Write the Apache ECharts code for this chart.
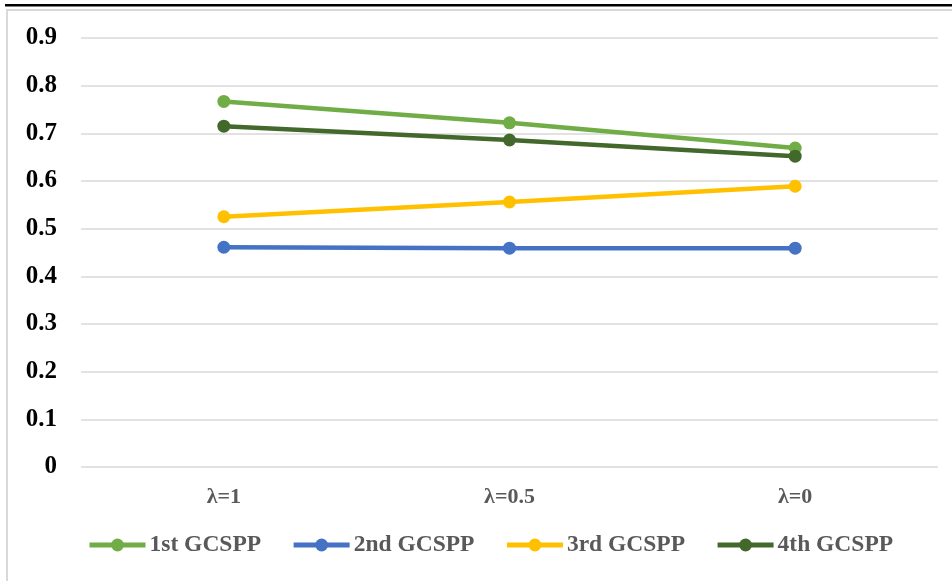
<!DOCTYPE html>
<html>
<head>
  <meta charset="utf-8" />
  <title>GCSPP</title>
  <script src="https://cdn.jsdelivr.net/npm/echarts@6.0.0/dist/echarts.min.js"></script>
  <style>
    body { margin: 0; background: #fff; }
  </style>
</head>
<body>
  <div id="main" style="width: 952px;height:581px;"></div>
  <script type="text/javascript">
    var myChart = echarts.init(document.getElementById('main'));

    // 数据
    let categories = ['λ=1', 'λ=0.5', 'λ=0'];
    let names = ['1st GCSPP', '2nd GCSPP', '3rd GCSPP', '4th GCSPP'];
    let first = [0.767, 0.722, 0.669];
    let second = [0.461, 0.459, 0.459];
    let third = [0.525, 0.556, 0.589];
    let fourth = [0.715, 0.686, 0.652];
    let yTicks = [0, 0.1, 0.2, 0.3, 0.4, 0.5, 0.6, 0.7, 0.8, 0.9];

    let colors = ['#70AD47', '#4472C4', '#FFC000', '#43682B'];
    let serif = '"Liberation Serif", "Times New Roman", serif';

    function mkSeries(name, data, color) {
      return {
        name: name,
        type: 'line',
        data: data,
        symbol: 'circle',
        symbolSize: 13,
        lineStyle: { width: 4.5, color: color },
        itemStyle: { color: color }
      };
    }

    var option = {
      backgroundColor: '#fff',
      animation: false,
      graphic: [
        { type: 'rect', shape: { x: 5, y: 4, width: 947, height: 2.5 }, style: { fill: '#000' } },
        { type: 'rect', shape: { x: 7, y: 9, width: 945, height: 2 }, style: { fill: '#d9d9d9' } },
        { type: 'rect', shape: { x: 6, y: 9, width: 2, height: 572 }, style: { fill: '#d9d9d9' } }
      ],
      grid: { left: 81, right: 14, top: 38, bottom: 114 },
      legend: {
        data: names,
        bottom: 19,
        left: 82,
        itemWidth: 56,
        itemHeight: 16,
        itemGap: 30,
        lineStyle: { width: 5 },
        textStyle: { fontFamily: serif, fontWeight: 'bold', fontSize: 23.5, color: '#595959', padding: [0, 0, 0, -1] }
      },
      xAxis: {
        type: 'category',
        data: categories,
        boundaryGap: true,
        axisLine: { show: false },
        axisTick: { show: false },
        axisLabel: { margin: 19, fontFamily: serif, fontWeight: 'bold', fontSize: 22, color: '#595959' }
      },
      yAxis: {
        type: 'value',
        min: 0,
        max: 0.9,
        interval: 0.1,
        axisLine: { show: false },
        axisTick: { show: false },
        axisLabel: {
          margin: 24,
          fontFamily: serif, fontWeight: 'bold', fontSize: 25, color: '#000',
          padding: [3, 0, 0, 0],
          formatter: function (v) {
            let t = yTicks.find(x => Math.abs(x - v) < 1e-6);
            return t === undefined ? '' : String(t);
          }
        },
        splitLine: { lineStyle: { color: '#d9d9d9', width: 1.5 } }
      },
      series: [
        mkSeries(names[0], first, colors[0]),
        mkSeries(names[1], second, colors[1]),
        mkSeries(names[2], third, colors[2]),
        mkSeries(names[3], fourth, colors[3])
      ]
    };

    myChart.setOption(option);
  </script>
</body>
</html>
